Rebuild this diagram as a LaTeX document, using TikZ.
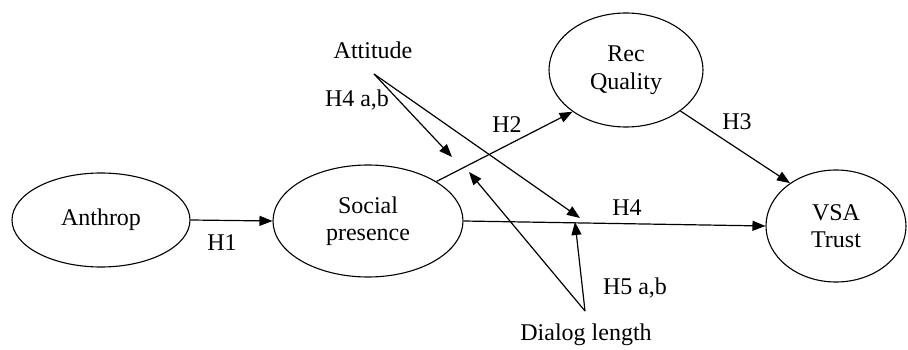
\documentclass[tikz,border=0pt]{standalone}
\usepackage{fontspec}
\setmainfont{Liberation Serif}
\usetikzlibrary{shapes.geometric,arrows.meta}
\begin{document}
\begin{tikzpicture}[x=1pt,y=-1pt,
  every node/.style={font=\fontsize{24}{27.5}\selectfont},
  construct/.style={draw,ellipse,line width=1.1pt,inner sep=0pt,align=center},
  lbl/.style={inner sep=0pt},
  conn/.style={line width=1.2pt,-{Triangle[length=13pt,width=10pt]}},
  plain/.style={line width=1.2pt}]
\useasboundingbox (0,0) rectangle (908,350);
\node[construct,minimum width=178pt,minimum height=94pt] (anth) at (101,220) {Anthrop};
\node[construct,minimum width=190pt,minimum height=112pt] (soc) at (368,221) {Social\\presence};
\node[construct,minimum width=154pt,minimum height=114pt] (rec) at (626,70) {Rec\\Quality};
\node[construct,minimum width=140pt,minimum height=112pt] (vsa) at (836,226) {VSA\\Trust};
\node[lbl] (att) at (373,50) {Attitude};
\node[lbl] (dial) at (586,335) {Dialog length};
\node[lbl] (h1) at (222,243) {H1};
\node[lbl] (h2) at (507,125) {H2};
\node[lbl] (h3) at (737,122) {H3};
\node[lbl] (h4) at (627,208) {H4};
\node[lbl] (h4ab) at (357,100) {H4 a,b};
\node[lbl] (h5ab) at (635,288) {H5 a,b};
\coordinate (attS) at (374,74);
\coordinate (m1) at (452,157);
\coordinate (m2) at (580,218);
\coordinate (dS) at (585,311);
\coordinate (m3) at (469,172);
\coordinate (m4) at (575,222);
\draw[conn] (anth.east) -- (soc.west);
\draw[conn] (soc.30) -- (rec.218);
\draw[conn] (rec.323) -- (vsa.137);
\draw[conn] (soc.east) -- (vsa.west);
\draw[conn] (attS) -- (m1);
\draw[conn] (attS) -- (m2);
\draw[conn] (dS) -- (m3);
\draw[conn] (dS) -- (m4);
\end{tikzpicture}
\end{document}
